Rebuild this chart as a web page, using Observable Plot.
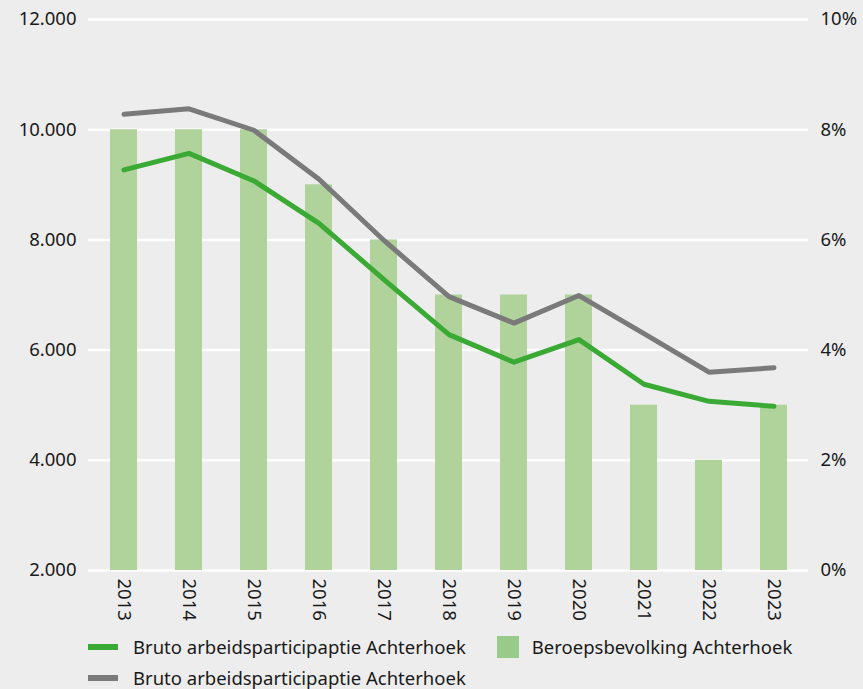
<!DOCTYPE html>
<html>
<head>
<meta charset="utf-8">
<script src="https://cdn.jsdelivr.net/npm/d3@7"></script>
<script src="https://cdn.jsdelivr.net/npm/@observablehq/plot@0.6"></script>
<style>
  html, body { margin: 0; padding: 0; background: #ededed; }
  body { width: 863px; height: 689px; overflow: hidden; font-family: "Noto Sans", sans-serif; color: #1a1a1a; }
  #legend { position: absolute; left: 88px; top: 633px; width: 740px; display: flex; flex-wrap: wrap; column-gap: 31px; row-gap: 4px; font-size: 18.5px; }
  .item { display: flex; align-items: center; height: 27px; }
  .line { width: 30px; height: 6px; margin-right: 15px; }
  .sq { width: 22px; height: 22px; margin-right: 13px; }
</style>
</head>
<body>
<div id="chart"></div>
<div id="legend"></div>
<script>
const years = ["2013","2014","2015","2016","2017","2018","2019","2020","2021","2022","2023"];
const beroepsbevolking = [10000, 10000, 10000, 9000, 8000, 7000, 7000, 7000, 5000, 4000, 5000];
const participatieGroen = [7.27, 7.57, 7.07, 6.30, 5.28, 4.28, 3.78, 4.19, 3.38, 3.07, 2.98];
const participatieGrijs = [8.28, 8.38, 7.99, 7.10, 5.99, 4.97, 4.49, 4.99, 4.30, 3.60, 3.68];
const leftTicks = [2000, 4000, 6000, 8000, 10000, 12000];
const rightTickLabels = ["0%", "2%", "4%", "6%", "8%", "10%"];
const legendLabels = ["Bruto arbeidsparticipaptie Achterhoek", "Beroepsbevolking Achterhoek", "Bruto arbeidsparticipaptie Achterhoek"];

const nl = d3.formatLocale({decimal: ",", thousands: ".", grouping: [3], currency: ["€", ""]});
const fmt = nl.format(",");
// percent (right axis, 0–10%) mapped onto left scale (2.000–12.000)
const pctToY = p => 2000 + p * 1000;

const bars = years.map((y, i) => ({year: y, value: beroepsbevolking[i]}));
const green = years.map((y, i) => ({year: y, pct: participatieGroen[i]}));
const gray = years.map((y, i) => ({year: y, pct: participatieGrijs[i]}));

const GREEN = "#3aaa35", GRAY = "#7a7a7a", BAR = "#b0d39c", BARLEG = "#98cb8a";

const chart = Plot.plot({
  width: 863,
  height: 630,
  marginTop: 19,
  marginBottom: 60,
  marginLeft: 88,
  marginRight: 55,
  style: {background: "transparent", fontFamily: "Noto Sans, sans-serif", fontSize: "18.5px", color: "#1a1a1a"},
  x: {domain: years, paddingInner: 0.59, paddingOuter: 0.29, label: null},
  y: {domain: [2000, 12000], label: null},
  marks: [
    Plot.gridY(leftTicks, {stroke: "#ffffff", strokeOpacity: 1, strokeWidth: 2.5}),
    Plot.barY(bars, {x: "year", y1: 2000, y2: "value", fill: BAR}),
    Plot.line(gray, {x: "year", y: d => pctToY(d.pct), stroke: GRAY, strokeWidth: 5, strokeLinecap: "round", strokeLinejoin: "round"}),
    Plot.line(green, {x: "year", y: d => pctToY(d.pct), stroke: GREEN, strokeWidth: 5, strokeLinecap: "round", strokeLinejoin: "round"}),
    Plot.axisY(leftTicks, {anchor: "left", tickSize: 0, tickPadding: 12, tickFormat: fmt, label: null, fontSize: 18.5}),
    Plot.axisY(leftTicks, {anchor: "right", tickSize: 0, tickPadding: 12, tickFormat: d => rightTickLabels[leftTicks.indexOf(d)], label: null, fontSize: 18.5}),
    Plot.axisX({tickSize: 0, tickRotate: 90, tickPadding: 8, label: null, fontSize: 18.5})
  ]
});
document.getElementById("chart").appendChild(chart);

const legend = document.getElementById("legend");
const items = [
  {label: legendLabels[0], cls: "line", color: GREEN},
  {label: legendLabels[1], cls: "sq", color: BARLEG},
  {label: legendLabels[2], cls: "line", color: GRAY}
];
for (const it of items) {
  const div = document.createElement("div");
  div.className = "item";
  const sw = document.createElement("span");
  sw.className = it.cls;
  sw.style.background = it.color;
  const t = document.createElement("span");
  t.textContent = it.label;
  div.appendChild(sw);
  div.appendChild(t);
  legend.appendChild(div);
}
</script>
</body>
</html>
